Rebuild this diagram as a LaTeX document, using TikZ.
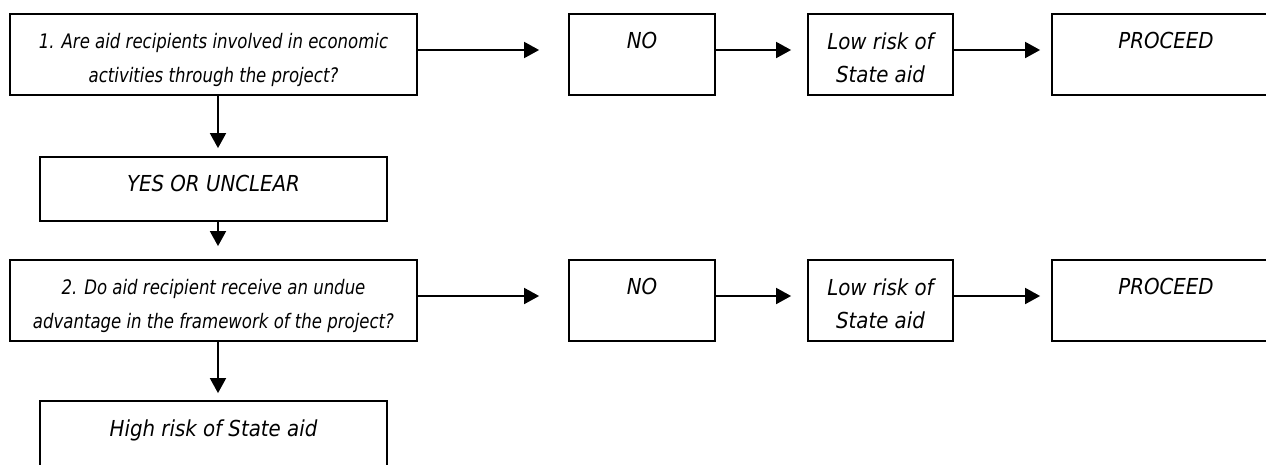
\documentclass[tikz,border=0pt]{standalone}
\usepackage{fontspec}
\newfontfamily\boxfont{DejaVu Sans Condensed Oblique}
\newfontfamily\qfont[FakeStretch=0.92]{DejaVu Sans Condensed Oblique}
\usetikzlibrary{arrows.meta}

\begin{document}
\begin{tikzpicture}[x=1pt,y=-1pt]
        \tikzset{box/.style = {draw,line width=1.8pt,minimum height=81pt,inner sep=0pt}};
        \tikzset{txt/.style = {anchor=north,yshift=-19pt,inner sep=0pt,align=center,font=\boxfont\fontsize{22}{33}\selectfont}};
        \tikzset{qtxt/.style = {anchor=north,yshift=-20pt,inner sep=0pt,align=center,font=\qfont\fontsize{20}{34}\selectfont}};
        \tikzset{edge/.style = {-{Triangle[length=15pt,width=16pt]},line width=1.8pt}};
        \useasboundingbox (0,0) rectangle (1266,464);
        \clip (0,0) rectangle (1266,464);
        \node[box,minimum width=407pt,label={[qtxt]north:{1. Are aid recipients involved in economic\\activities through the project?}}] (q1) at (213.5,54.5) {};
        \node[box,minimum width=146pt,label={[txt]north:NO}] (no1) at (642,54.5) {};
        \node[box,minimum width=145pt,label={[txt]north:{Low risk of\\State aid}}] (low1) at (880.5,54.5) {};
        \node[box,minimum width=228pt,label={[txt]north:PROCEED}] (go1) at (1166,54.5) {};
        \node[box,minimum width=347pt,minimum height=64pt,label={[txt]north:YES OR UNCLEAR}] (yes) at (213.5,189) {};
        \node[box,minimum width=407pt,label={[qtxt]north:{2. Do aid recipient receive an undue\\advantage in the framework of the project?}}] (q2) at (213.5,300.5) {};
        \node[box,minimum width=146pt,label={[txt]north:NO}] (no2) at (642,300.5) {};
        \node[box,minimum width=145pt,label={[txt]north:{Low risk of\\State aid}}] (low2) at (880.5,300.5) {};
        \node[box,minimum width=228pt,label={[txt]north:PROCEED}] (go2) at (1166,300.5) {};
        \node[box,minimum width=347pt,minimum height=69pt,label={[txt]north:High risk of State aid}] (high) at (213.5,435.5) {};
        \draw[edge,shorten >=29pt] ([yshift=4.5pt]q1.east)  to  ([yshift=4.5pt]no1.west);
        \draw[edge,shorten >=16pt] ([yshift=4.5pt]no1.east)  to  ([yshift=4.5pt]low1.west);
        \draw[edge,shorten >=11pt] ([yshift=4.5pt]low1.east)  to  ([yshift=4.5pt]go1.west);
        \draw[edge,shorten >=29pt] ([yshift=4.5pt]q2.east)  to  ([yshift=4.5pt]no2.west);
        \draw[edge,shorten >=16pt] ([yshift=4.5pt]no2.east)  to  ([yshift=4.5pt]low2.west);
        \draw[edge,shorten >=11pt] ([yshift=4.5pt]low2.east)  to  ([yshift=4.5pt]go2.west);
        \draw[edge,shorten >=8pt] ([xshift=4.5pt]q1.south)  to  ([xshift=4.5pt]q1.south |- yes.north);
        \draw[edge,shorten >=13pt] ([xshift=4.5pt]yes.south)  to  ([xshift=4.5pt]yes.south |- q2.north);
        \draw[edge,shorten >=7pt] ([xshift=4.5pt]q2.south)  to  ([xshift=4.5pt]q2.south |- high.north);
    \end{tikzpicture}
\end{document}
